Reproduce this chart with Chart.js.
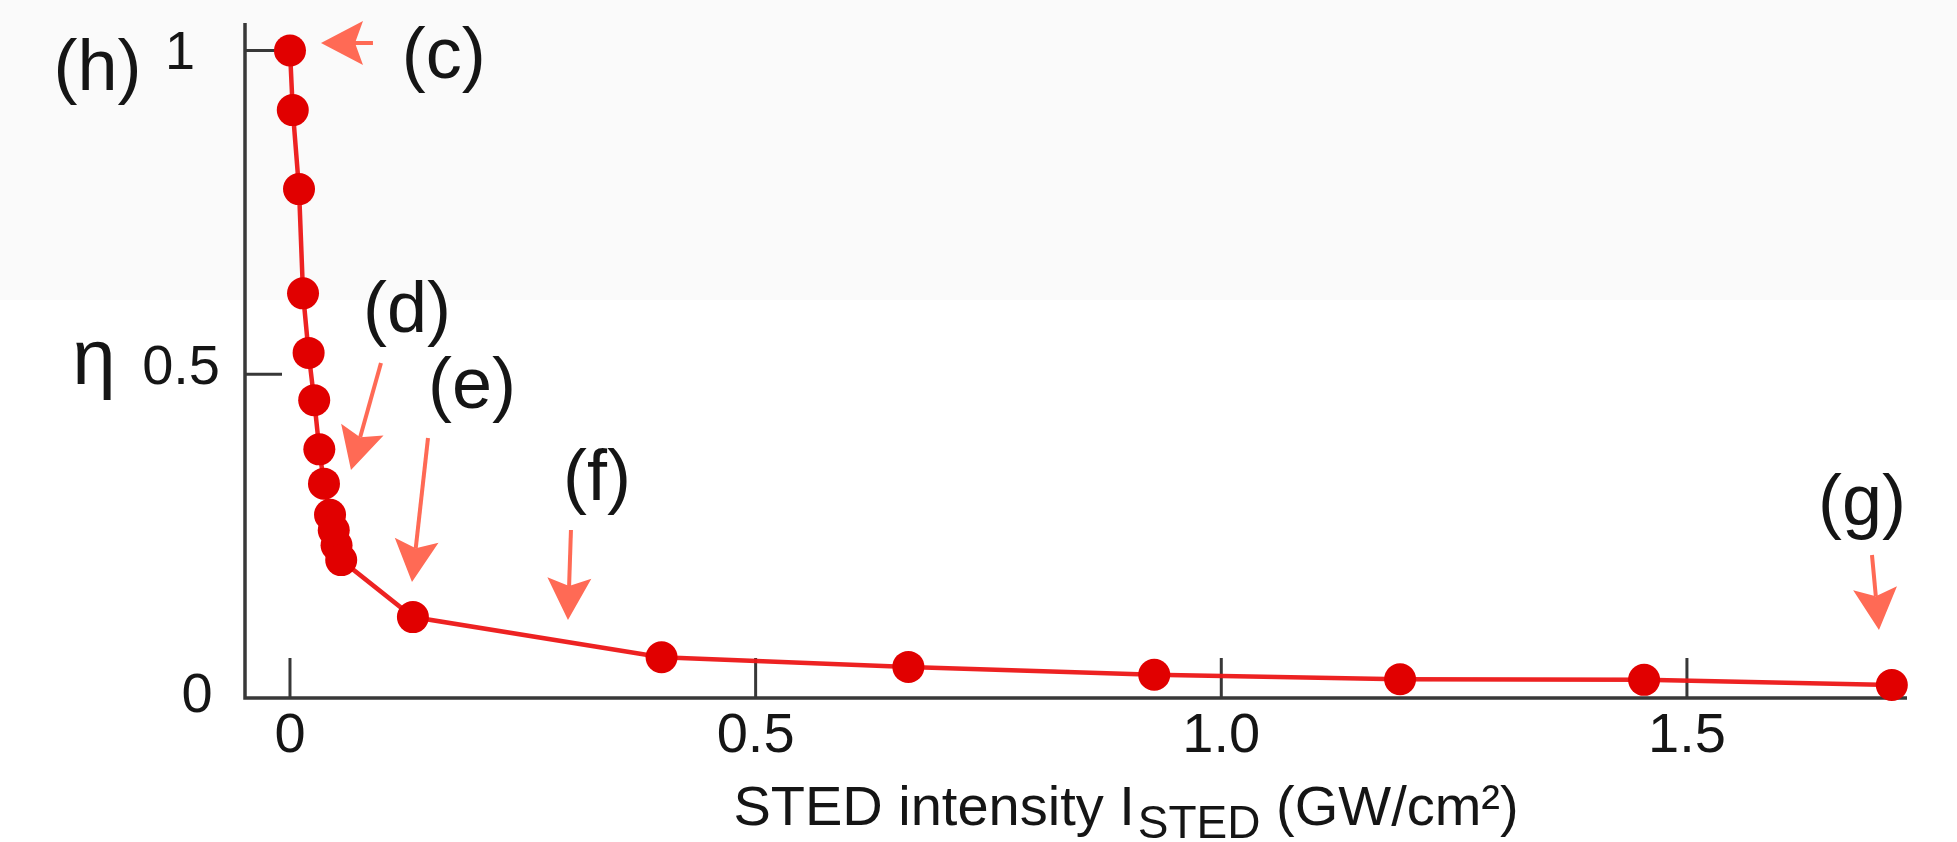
<!DOCTYPE html>
<html>
<head>
<meta charset="utf-8">
<script src="https://cdn.jsdelivr.net/npm/chart.js@4"></script>
<style>
  html, body { margin: 0; padding: 0; background: #ffffff; }
  canvas { display: block; }
</style>
</head>
<body>
<canvas id="chart" width="1957" height="842"></canvas>
<script>
// STED intensity (GW/cm²) and relative fluorescence η
const intensity = [0, 0.003, 0.0097, 0.014, 0.020, 0.026, 0.0315, 0.0365, 0.043, 0.047, 0.050, 0.055,
                   0.132, 0.399, 0.664, 0.928, 1.192, 1.454, 1.720];
const eta       = [1.0, 0.908, 0.786, 0.625, 0.533, 0.460, 0.384, 0.331, 0.283, 0.259, 0.236, 0.213,
                   0.125, 0.063, 0.048, 0.036, 0.029, 0.028, 0.020];

const xTickValues = [0, 0.5, 1.0, 1.5];
const xTickLabels = ['0', '0.5', '1.0', '1.5'];
const yTickValues = [1, 0.5, 0];
const yTickLabels = ['1', '0.5', '0'];

// Panel callouts: label position and arrow (tail -> tip), all in data units
const callouts = [
  { text: '(c)', at: [0.165, 0.958],   tail: [0.0891, 1.0116], tip: [0.0333, 1.0116] },
  { text: '(d)', at: [0.1256, 0.565],  tail: [0.0977, 0.5174], tip: [0.0655, 0.3521] },
  { text: '(e)', at: [0.1954, 0.448],  tail: [0.1482, 0.4015], tip: [0.1310, 0.1792] },
  { text: '(f)', at: [0.3296, 0.306],  tail: [0.3017, 0.2595], tip: [0.2985, 0.1205] },
  { text: '(g)', at: [1.688, 0.267],   tail: [1.6987, 0.2208], tip: [1.7062, 0.1050] }
];

const FONT = '"Liberation Sans", Arial, Helvetica, sans-serif';
const AXIS_COLOR = '#383838';
const ARROW_COLOR = '#ff6a55';
const TEXT_COLOR = '#151515';

// y tick label placement relative to each tick (dx from axis, dy from tick, alignment)
const yLabelStyle = [
  { dx: -65, dy: 18, align: 'center', size: 54 },
  { dx: -25, dy: 10, align: 'right',  size: 56 },
  { dx: -48, dy: 14, align: 'center', size: 56 }
];

const points = intensity.map((x, i) => ({ x: x, y: eta[i] }));

const backdrop = {
  id: 'backdrop',
  beforeDraw(chart) {
    const ctx = chart.ctx;
    ctx.save();
    ctx.fillStyle = '#ffffff';
    ctx.fillRect(0, 0, chart.width, chart.height);
    ctx.fillStyle = '#fafafa';
    ctx.fillRect(0, 0, chart.width, 300);
    ctx.restore();
  }
};

const axesPlugin = {
  id: 'axesPlugin',
  beforeDatasetsDraw(chart) {
    const { ctx, chartArea: a, scales: { x, y } } = chart;
    ctx.save();
    ctx.strokeStyle = AXIS_COLOR;
    ctx.lineWidth = 3.5;
    ctx.lineCap = 'butt';
    ctx.beginPath();
    ctx.moveTo(a.left, a.top);
    ctx.lineTo(a.left, a.bottom);
    ctx.lineTo(a.right, a.bottom);
    ctx.stroke();

    ctx.lineWidth = 3;
    xTickValues.forEach(v => {
      const px = x.getPixelForValue(v);
      ctx.beginPath();
      ctx.moveTo(px, a.bottom);
      ctx.lineTo(px, a.bottom - 40);
      ctx.stroke();
    });
    yTickValues.forEach(v => {
      if (v === y.min) return;
      const py = y.getPixelForValue(v);
      ctx.beginPath();
      ctx.moveTo(a.left, py);
      ctx.lineTo(a.left + 37, py);
      ctx.stroke();
    });
    ctx.restore();
  }
};

function drawArrow(ctx, x1, y1, x2, y2) {
  const ang = Math.atan2(y2 - y1, x2 - x1);
  const c = Math.cos(ang), s = Math.sin(ang);
  const L = 42, W = 22, notch = 8;
  ctx.beginPath();
  ctx.moveTo(x1, y1);
  ctx.lineTo(x2 - c * (L - notch), y2 - s * (L - notch));
  ctx.stroke();
  ctx.beginPath();
  ctx.moveTo(x2, y2);
  ctx.lineTo(x2 - c * L - s * W, y2 - s * L + c * W);
  ctx.lineTo(x2 - c * (L - notch), y2 - s * (L - notch));
  ctx.lineTo(x2 - c * L + s * W, y2 - s * L - c * W);
  ctx.closePath();
  ctx.fill();
}

const textPlugin = {
  id: 'textPlugin',
  afterDraw(chart) {
    const { ctx, chartArea: a, scales: { x, y } } = chart;
    ctx.save();
    ctx.fillStyle = TEXT_COLOR;
    ctx.textBaseline = 'alphabetic';

    // x tick labels
    ctx.font = '56px ' + FONT;
    ctx.textAlign = 'center';
    xTickValues.forEach((v, i) => {
      ctx.fillText(xTickLabels[i], x.getPixelForValue(v), a.bottom + 54);
    });

    // y tick labels
    yTickValues.forEach((v, i) => {
      const st = yLabelStyle[i];
      ctx.font = st.size + 'px ' + FONT;
      ctx.textAlign = st.align;
      ctx.fillText(yTickLabels[i], a.left + st.dx, y.getPixelForValue(v) + st.dy);
    });

    // axis symbols
    ctx.textAlign = 'center';
    ctx.font = '72px ' + FONT;
    ctx.fillText('(h)', x.getPixelForValue(-0.2066), y.getPixelForValue(0.939));
    ctx.font = '78px ' + FONT;
    ctx.fillText('η', x.getPixelForValue(-0.2105), y.getPixelForValue(0.485));

    // x axis title with subscript
    const parts = [
      { t: 'STED intensity I', size: 56, dy: 0 },
      { t: 'STED', size: 46, dy: 13 },
      { t: ' (GW/cm²)', size: 56, dy: 0 }
    ];
    const gap = 3;
    let total = gap;
    parts.forEach(p => { ctx.font = p.size + 'px ' + FONT; p.w = ctx.measureText(p.t).width; total += p.w; });
    let cx = x.getPixelForValue(0.8977) - total / 2;
    const base = a.bottom + 127;
    ctx.textAlign = 'left';
    parts.forEach((p, i) => {
      ctx.font = p.size + 'px ' + FONT;
      ctx.fillText(p.t, cx, base + p.dy);
      cx += p.w + (i === 0 ? gap : 0);
    });

    // callouts
    ctx.textAlign = 'center';
    ctx.font = '72px ' + FONT;
    callouts.forEach(cl => {
      ctx.fillStyle = TEXT_COLOR;
      ctx.fillText(cl.text, x.getPixelForValue(cl.at[0]), y.getPixelForValue(cl.at[1]));
      ctx.fillStyle = ARROW_COLOR;
      ctx.strokeStyle = ARROW_COLOR;
      ctx.lineWidth = 4;
      drawArrow(ctx,
        x.getPixelForValue(cl.tail[0]), y.getPixelForValue(cl.tail[1]),
        x.getPixelForValue(cl.tip[0]), y.getPixelForValue(cl.tip[1]));
    });
    ctx.restore();
  }
};

new Chart(document.getElementById('chart'), {
  type: 'line',
  data: {
    datasets: [{
      data: points,
      borderColor: 'rgba(236, 22, 22, 0.95)',
      borderWidth: 4.5,
      backgroundColor: '#e10000',
      pointBackgroundColor: '#e10000',
      pointBorderWidth: 0,
      pointRadius: 16,
      tension: 0,
      clip: false
    }]
  },
  options: {
    responsive: false,
    devicePixelRatio: 1,
    animation: false,
    events: [],
    layout: { padding: { left: 245, right: 50, top: 23, bottom: 144 } },
    plugins: { legend: { display: false }, tooltip: { enabled: false } },
    scales: {
      x: { type: 'linear', min: -0.0483, max: 1.7363, display: false },
      y: { type: 'linear', min: 0, max: 1.0425, display: false }
    }
  },
  plugins: [backdrop, axesPlugin, textPlugin]
});
</script>
</body>
</html>
